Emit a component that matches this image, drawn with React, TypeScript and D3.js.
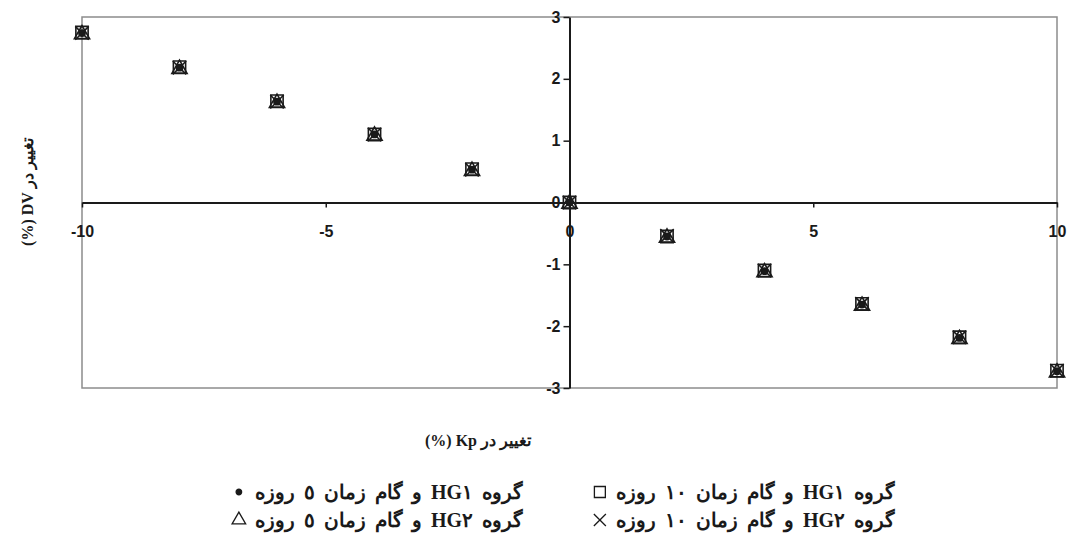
import React, { useEffect, useRef } from 'react';
import * as d3 from 'd3';

// Kp change (%) and DV change (%) for each of the four runs
const kpChange = [-10, -8, -6, -4, -2, 0, 2, 4, 6, 8, 10];
const hg1Step5 = [2.74, 2.18, 1.63, 1.1, 0.53, 0, -0.55, -1.11, -1.65, -2.19, -2.73];
const hg1Step10 = [2.75, 2.19, 1.64, 1.1, 0.54, 0, -0.55, -1.1, -1.64, -2.18, -2.72];
const hg2Step10 = [2.74, 2.18, 1.63, 1.1, 0.53, 0, -0.54, -1.1, -1.64, -2.18, -2.72];
const hg2Step5 = [2.72, 2.16, 1.61, 1.08, 0.51, -0.02, -0.57, -1.13, -1.67, -2.21, -2.75];

const xTicks = [-10, -5, 0, 5, 10];
const yTicks = [-3, -2, -1, 0, 1, 2, 3];

const xTitle = 'تغییر در Kp (%)';
const yTitle = 'تغییر در DV (%)';

const seriesNames = [
  'گروه HG۱ و گام زمان ٥ روزه',
  'گروه HG۱ و گام زمان ۱۰ روزه',
  'گروه HG۲ و گام زمان ۱۰ روزه',
  'گروه HG۲ و گام زمان ٥ روزه',
];

type Series = { name: string; values: number[]; symbol: d3.SymbolType; size: number; filled: boolean; legendCol: number; legendRow: number };

const series: Series[] = [
  { name: seriesNames[0], values: hg1Step5, symbol: d3.symbolCircle, size: 30, filled: true, legendCol: 0, legendRow: 0 },
  { name: seriesNames[1], values: hg1Step10, symbol: d3.symbolSquare, size: 150, filled: false, legendCol: 1, legendRow: 0 },
  { name: seriesNames[2], values: hg2Step10, symbol: (d3 as any).symbolTimes || (d3 as any).symbolX, size: 120, filled: false, legendCol: 1, legendRow: 1 },
  { name: seriesNames[3], values: hg2Step5, symbol: d3.symbolTriangle, size: 100, filled: false, legendCol: 0, legendRow: 1 },
];

export default function App() {
  const svgRef = useRef<SVGSVGElement>(null);

  useEffect(() => {
    if (!svgRef.current) return;
    const svg = d3.select(svgRef.current);
    svg.selectAll('*').remove();

    const x = d3.scaleLinear().domain([-10, 10]).range([82, 1057]);
    const y = d3.scaleLinear().domain([-3, 3]).range([388, 17]);

    const ink = '#1a1a1a';
    const tickFont = '"Liberation Sans", Arial, sans-serif';
    const textFont = '"Liberation Serif", "DejaVu Serif", serif';

    // plot frame
    svg.append('rect')
      .attr('x', x(-10))
      .attr('y', y(3))
      .attr('width', x(10) - x(-10))
      .attr('height', y(-3) - y(3))
      .attr('fill', 'none')
      .attr('stroke', '#8c8c8c')
      .attr('stroke-width', 1.5);

    // axes through the origin
    const xAxis = svg.append('g')
      .attr('transform', `translate(0,${y(0)})`)
      .call(d3.axisBottom(x).tickValues(xTicks).tickSize(5).tickSizeOuter(0).tickFormat(d => String(d)));
    xAxis.select('.domain').attr('stroke', ink).attr('stroke-width', 2);
    xAxis.selectAll('.tick line').attr('stroke', ink).attr('stroke-width', 1.5);
    xAxis.selectAll('.tick text')
      .attr('y', 29)
      .attr('dy', '0.35em')
      .style('font-family', tickFont)
      .style('font-weight', 'bold')
      .style('font-size', '16px')
      .attr('fill', ink);

    const yAxis = svg.append('g')
      .attr('transform', `translate(${x(0)},0)`)
      .call(d3.axisLeft(y).tickValues(yTicks).tickSize(6).tickSizeOuter(0).tickFormat(d => String(d)));
    yAxis.select('.domain').attr('stroke', ink).attr('stroke-width', 2);
    yAxis.selectAll('.tick line').attr('stroke', ink).attr('stroke-width', 1.5);
    yAxis.selectAll('.tick text')
      .attr('x', -9)
      .style('font-family', tickFont)
      .style('font-weight', 'bold')
      .style('font-size', '16px')
      .attr('fill', ink);

    // markers
    series.forEach(s => {
      const path = d3.symbol().type(s.symbol).size(s.size)();
      svg.append('g')
        .selectAll('path')
        .data(s.values.map((v, i) => [kpChange[i], v] as [number, number]))
        .enter()
        .append('path')
          .attr('d', path)
          .attr('transform', d => `translate(${x(d[0])},${y(d[1])})`)
          .attr('fill', s.filled ? ink : 'none')
          .attr('stroke', ink)
          .attr('stroke-width', 1.6);
    });

    // axis titles
    svg.append('text')
      .attr('x', 478)
      .attr('y', 446)
      .attr('text-anchor', 'middle')
      .style('direction', 'rtl')
      .style('font-family', textFont)
      .style('font-weight', 'bold')
      .style('font-size', '16px')
      .attr('fill', ink)
      .text(xTitle);

    svg.append('text')
      .attr('transform', `translate(33,192) rotate(-90)`)
      .attr('text-anchor', 'middle')
      .style('direction', 'rtl')
      .style('font-family', textFont)
      .style('font-weight', 'bold')
      .style('font-size', '16px')
      .attr('fill', ink)
      .text(yTitle);

    // legend
    const colRight = [523, 895];
    const rowY = [499, 527];
    series.forEach(s => {
      const t = svg.append('text')
        .attr('x', colRight[s.legendCol])
        .attr('y', rowY[s.legendRow])
        .attr('text-anchor', 'start')
        .style('direction', 'rtl')
        .style('font-family', textFont)
        .style('font-weight', 'bold')
        .style('font-size', '20px')
        .style('word-spacing', '4px')
        .attr('fill', ink)
        .text(s.name);
      const box = (t.node() as SVGTextElement).getBBox();
      svg.append('path')
        .attr('d', d3.symbol().type(s.symbol).size(s.size * 0.8)()!)
        .attr('transform', `translate(${box.x - 16},${rowY[s.legendRow] - 7})`)
        .attr('fill', s.filled ? ink : 'none')
        .attr('stroke', ink)
        .attr('stroke-width', 1.3);
    });
  }, []);

  return (
    <svg
      ref={svgRef}
      width={1071}
      height={547}
      style={{ position: 'absolute', left: 0, top: 0, background: '#fff' }}
    />
  );
}
